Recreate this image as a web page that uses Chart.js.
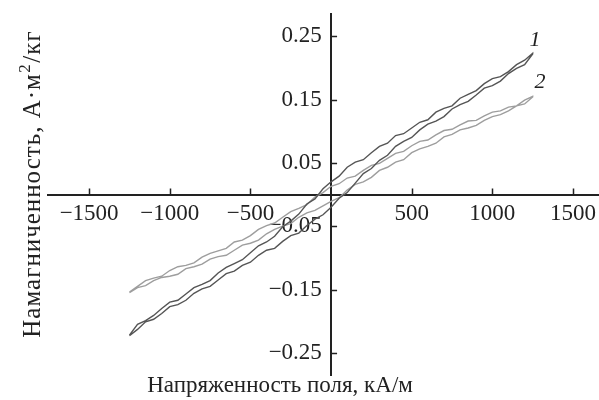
<!DOCTYPE html>
<html>
<head>
<meta charset="utf-8">
<script src="https://cdn.jsdelivr.net/npm/chart.js@4.4.1/dist/chart.umd.min.js"></script>
<style>
  html, body { margin: 0; padding: 0; background: #ffffff; }
  #wrap { width: 599px; height: 400px; position: relative; }
</style>
</head>
<body>
<div id="wrap"><canvas id="grafico"></canvas></div>
<script>
// field, kA/m (same grid for both branches)
const campo = [-1250, -1200, -1150, -1100, -1050, -1000, -950, -900, -850, -800,
  -750, -700, -650, -600, -550, -500, -450, -400, -350, -300,
  -250, -200, -150, -100, -50, 0, 50, 100, 150, 200,
  250, 300, 350, 400, 450, 500, 550, 600, 650, 700,
  750, 800, 850, 900, 950, 1000, 1050, 1100, 1150, 1200, 1250];

// sample 1 : ascending (lower) and descending (upper) branch
const amostra1Sobe = [-0.223, -0.213, -0.201, -0.197, -0.188, -0.177, -0.174, -0.167, -0.156, -0.149,
  -0.145, -0.135, -0.125, -0.121, -0.112, -0.107, -0.096, -0.088, -0.085, -0.074,
  -0.065, -0.061, -0.049, -0.039, -0.032, -0.020, -0.006, 0.003, 0.018, 0.033,
  0.041, 0.054, 0.062, 0.076, 0.084, 0.090, 0.102, 0.111, 0.116, 0.123,
  0.135, 0.142, 0.147, 0.157, 0.168, 0.172, 0.179, 0.191, 0.199, 0.205, 0.222];
const amostra1Desce = [-0.222, -0.205, -0.199, -0.191, -0.180, -0.170, -0.167, -0.157, -0.147, -0.142,
  -0.136, -0.124, -0.115, -0.109, -0.103, -0.092, -0.081, -0.075, -0.066, -0.051,
  -0.042, -0.031, -0.015, -0.007, 0.009, 0.020, 0.029, 0.043, 0.051, 0.055,
  0.066, 0.076, 0.081, 0.093, 0.096, 0.105, 0.114, 0.118, 0.130, 0.136,
  0.140, 0.152, 0.158, 0.164, 0.175, 0.183, 0.186, 0.194, 0.205, 0.212, 0.223];

// sample 2
const amostra2Sobe = [-0.155, -0.147, -0.144, -0.136, -0.131, -0.129, -0.126, -0.117, -0.114, -0.110,
  -0.102, -0.098, -0.096, -0.088, -0.080, -0.077, -0.072, -0.062, -0.055, -0.050,
  -0.046, -0.036, -0.029, -0.025, -0.018, -0.011, -0.005, 0.007, 0.016, 0.020,
  0.027, 0.038, 0.043, 0.051, 0.055, 0.066, 0.072, 0.076, 0.081, 0.091,
  0.095, 0.102, 0.105, 0.109, 0.117, 0.123, 0.126, 0.132, 0.140, 0.143, 0.154];
const amostra2Desce = [-0.154, -0.145, -0.136, -0.132, -0.129, -0.120, -0.114, -0.112, -0.108, -0.099,
  -0.093, -0.089, -0.085, -0.075, -0.072, -0.065, -0.055, -0.049, -0.045, -0.036,
  -0.027, -0.022, -0.016, -0.004, 0.003, 0.013, 0.017, 0.026, 0.029, 0.038,
  0.046, 0.049, 0.057, 0.065, 0.068, 0.077, 0.084, 0.086, 0.094, 0.101,
  0.103, 0.110, 0.116, 0.117, 0.124, 0.130, 0.132, 0.138, 0.140, 0.149, 0.155];

const ticksX = [-1500, -1000, -500, 500, 1000, 1500];
const ticksY = [0.25, 0.15, 0.05, -0.05, -0.15, -0.25];
const tituloX = 'Напряженность поля, кА/м';
const tituloY = ['Намагниченность, А·м', '2', '/кг'];
const rotulos = ['1', '2'];

const fonte = "'Liberation Serif', 'DejaVu Serif', serif";
Chart.defaults.font.family = fonte;
Chart.defaults.color = '#222';

function laco(sobe, desce) {
  const pts = campo.map((x, i) => ({ x: x, y: sobe[i] }));
  for (let i = campo.length - 1; i >= 0; i--) {
    pts.push({ x: campo[i], y: desce[i] });
  }
  return pts;
}

function menos(v, casas) {
  const s = Math.abs(v).toFixed(casas);
  return v < 0 ? '\u2212' + s : s;
}

function semPadding(s) {
  s.paddingLeft = 0;
  s.paddingRight = 0;
  s.paddingTop = 0;
  s.paddingBottom = 0;
}

const extras = {
  id: 'extras',
  afterDraw(chart) {
    const ctx = chart.ctx;
    const sx = chart.scales.x;
    const sy = chart.scales.y;
    const x0 = sx.getPixelForValue(0);
    const y0 = sy.getPixelForValue(0);
    ctx.save();
    ctx.strokeStyle = '#222';
    ctx.lineWidth = 1.5;
    ctx.beginPath();
    ticksX.forEach(v => {
      const px = Math.round(sx.getPixelForValue(v)) + 0.5;
      ctx.moveTo(px, y0);
      ctx.lineTo(px, y0 - 6);
    });
    ticksY.forEach(v => {
      const py = Math.round(sy.getPixelForValue(v)) + 0.5;
      ctx.moveTo(x0, py);
      ctx.lineTo(x0 + 6, py);
    });
    ctx.stroke();

    ctx.fillStyle = '#222';
    ctx.font = '23px ' + fonte;
    ctx.textAlign = 'center';
    ctx.textBaseline = 'alphabetic';
    ctx.fillText(tituloX, 280, 392);

    // y title, with a real superscript
    ctx.save();
    ctx.translate(40, 184);
    ctx.rotate(-Math.PI / 2);
    ctx.textAlign = 'left';
    ctx.letterSpacing = '1px';
    ctx.font = '25px ' + fonte;
    const w1 = ctx.measureText(tituloY[0]).width;
    const w3 = ctx.measureText(tituloY[2]).width;
    ctx.font = '17px ' + fonte;
    const w2 = ctx.measureText(tituloY[1]).width + 1;
    let p = -(w1 + w2 + w3) / 2;
    ctx.font = '25px ' + fonte;
    ctx.fillText(tituloY[0], p, 0);
    p += w1;
    ctx.font = '17px ' + fonte;
    ctx.fillText(tituloY[1], p + 0.5, -10);
    p += w2;
    ctx.font = '25px ' + fonte;
    ctx.fillText(tituloY[2], p, 0);
    ctx.restore();

    ctx.font = 'italic 22px ' + fonte;
    ctx.fillText(rotulos[0], sx.getPixelForValue(1265), sy.getPixelForValue(0.235));
    ctx.fillText(rotulos[1], sx.getPixelForValue(1295), sy.getPixelForValue(0.168));
    ctx.restore();
  }
};

new Chart(document.getElementById('grafico'), {
  type: 'scatter',
  data: {
    datasets: [{
      label: '1',
      data: laco(amostra1Sobe, amostra1Desce),
      showLine: true,
      borderColor: '#555555',
      borderWidth: 1.4,
      pointRadius: 0,
      tension: 0
    },
    {
      label: '2',
      data: laco(amostra2Sobe, amostra2Desce),
      showLine: true,
      borderColor: '#9e9e9e',
      borderWidth: 1.4,
      pointRadius: 0,
      tension: 0
    }]
  },
  options: {
    responsive: true,
    maintainAspectRatio: false,
    animation: false,
    layout: { padding: { left: 48, right: 1, top: 14, bottom: 25 } },
    plugins: { legend: { display: false }, tooltip: { enabled: false } },
    scales: {
      x: {
        type: 'linear',
        position: { y: 0 },
        min: -1755,
        max: 1655,
        afterBuildTicks: s => { s.ticks = ticksX.map(v => ({ value: v })); },
        afterFit: semPadding,
        grid: { display: false, drawTicks: false },
        border: { display: true, color: '#222', width: 2 },
        ticks: {
          font: { size: 23 },
          color: '#222',
          padding: 6,
          maxRotation: 0,
          autoSkip: false,
          callback: v => menos(v, 0)
        }
      },
      y: {
        type: 'linear',
        position: { x: 0 },
        min: -0.285,
        max: 0.285,
        afterBuildTicks: s => { s.ticks = ticksY.map(v => ({ value: v })); },
        afterFit: semPadding,
        grid: { display: false, drawTicks: false },
        border: { display: true, color: '#222', width: 2 },
        ticks: {
          font: { size: 23 },
          color: '#222',
          autoSkip: false,
          callback: v => menos(v, 2) + '\u2009\u2009'
        }
      }
    }
  },
  plugins: [extras]
});
</script>
</body>
</html>
